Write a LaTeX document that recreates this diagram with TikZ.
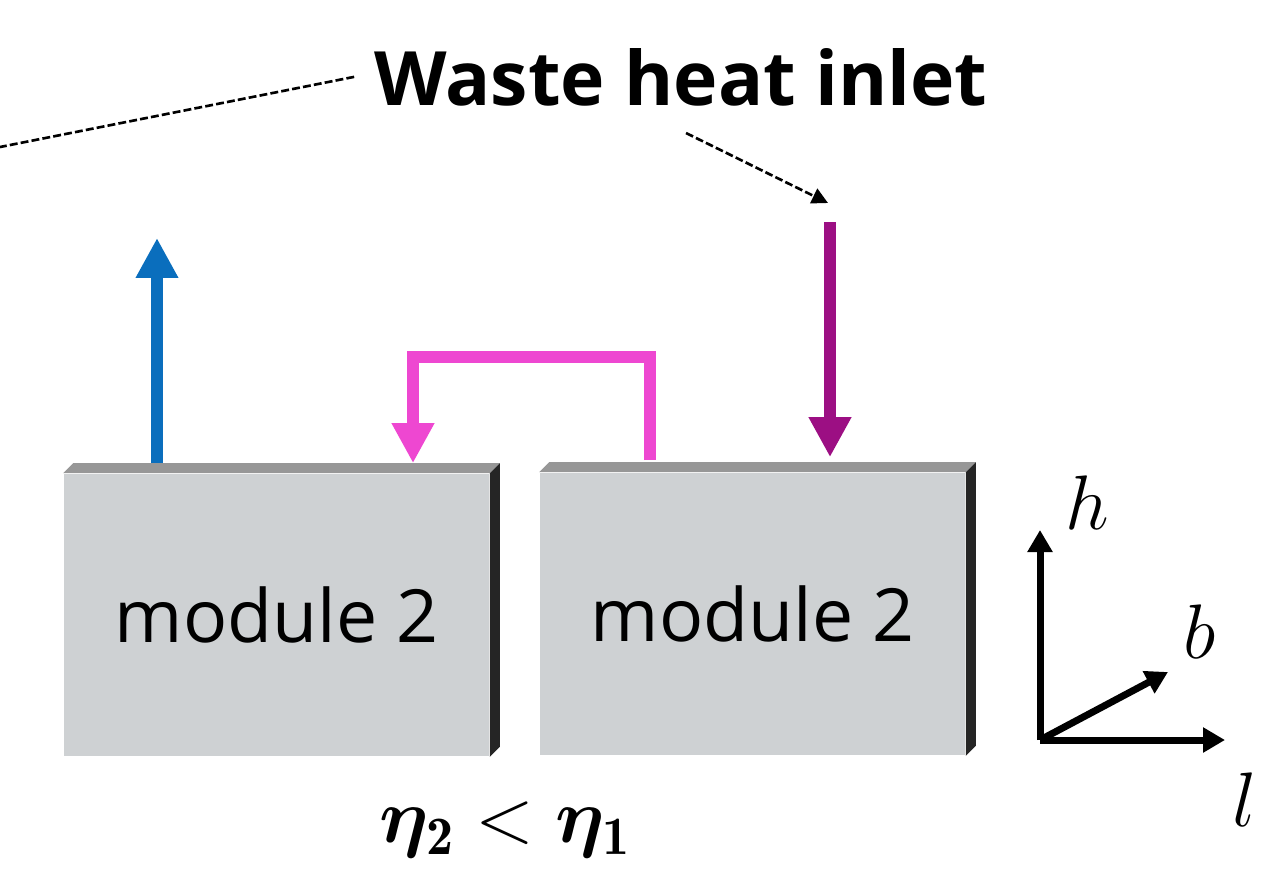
\documentclass[tikz,border=0pt]{standalone}
\usepackage{fix-cm}
\usepackage{amsmath}
\usepackage{bm}
\usepackage{fontspec}
\newfontfamily\opensans{Open Sans}
\usetikzlibrary{arrows.meta, calc}
\definecolor{slabfront}{HTML}{CED1D3}
\definecolor{slabtop}{HTML}{979797}
\definecolor{slabside}{HTML}{252525}
\definecolor{outflow}{HTML}{0A6EBD}
\definecolor{loopflow}{HTML}{EE47D1}
\definecolor{inflow}{HTML}{9C0F83}
\newcommand{\slab}[1]{%
  \fill[slabtop] (#1.north west) -- ++(10,-10)
    -- ($(#1.north east)+(10,-10)$) -- (#1.north east) -- cycle;
  \fill[slabside] (#1.north east) -- ++(10,-10)
    -- ($(#1.south east)+(10,-10)$) -- (#1.south east) -- cycle;}

\begin{document}
\begin{tikzpicture}[x=0.02cm, y=-0.02cm,
    module/.style={fill=slabfront, minimum width=8.52cm, minimum height=5.66cm,
                   inner sep=0pt, font=\opensans\fontsize{41.8}{50}\selectfont},
    flow/.style={line width=0.24cm, line join=miter,
                 -{Triangle[length=0.8cm, width=0.8cm]}},
    hint/.style={line width=1.5pt, dash pattern=on 4.5pt off 1.8pt},
    axis/.style={line width=0.14cm, -{Triangle[length=0.44cm, width=0.48cm]}},
    sym/.style={font=\fontsize{44}{52}\selectfont}]
  \useasboundingbox (0,0) rectangle (1261,883);
  \node[module] (m1) at (276.5,615) {module 2};
  \node[module] (m2) at (752.5,614) {module 2};
  \slab{m1}
  \slab{m2}
  \node[font=\opensans\bfseries\fontsize{42.7}{51}\selectfont, inner sep=0pt,
        anchor=base] (title) at (681,105) {Waste heat inlet};
  \coordinate (outtop) at (157,238);
  \coordinate (loopleft) at (413,357);
  \coordinate (loopright) at (650,357);
  \coordinate (inlet) at (830,222);
  \coordinate (leftend) at (0,147);
  \draw[flow, outflow] ($(m1.north -| outtop)+(0,-10)$) -- (outtop);
  \draw[flow, loopflow] ($(m2.north -| loopright)+(0,-12)$) -- (loopright)
    -- (loopleft) -- ($(m1.north -| loopleft)+(0,-10)$);
  \draw[flow, inflow] (inlet) -- ($(m2.north -| inlet)+(0,-15)$);
  \draw[hint] ($(title.west)+(-20,0)$) -- (leftend);
  \draw[hint, -{Triangle[length=0.32cm, width=0.32cm]}]
    ($(title.base)+(5,28)$) -- ($(inlet)+(-2,-19)$);
  % axes
  \coordinate (origin) at (1040,740);
  \coordinate (htip) at (1040,530);
  \coordinate (ltip) at (1225,740);
  \coordinate (btip) at (1168,672);
  \draw[axis] (origin) -- (htip);
  \draw[axis] (origin) -- (ltip);
  \draw[axis] (origin) -- (btip);
  \node[sym] (hlab) at (1087,503) {$h$};
  \node[sym] (blab) at (1200,632) {$b$};
  \node[sym] (llab) at (1245,800) {$l$};
  \node[sym] (eta) at (505,830) {$\bm{\eta}_{\mathbf{2}} < \bm{\eta}_{\mathbf{1}}$};
\end{tikzpicture}
\end{document}
